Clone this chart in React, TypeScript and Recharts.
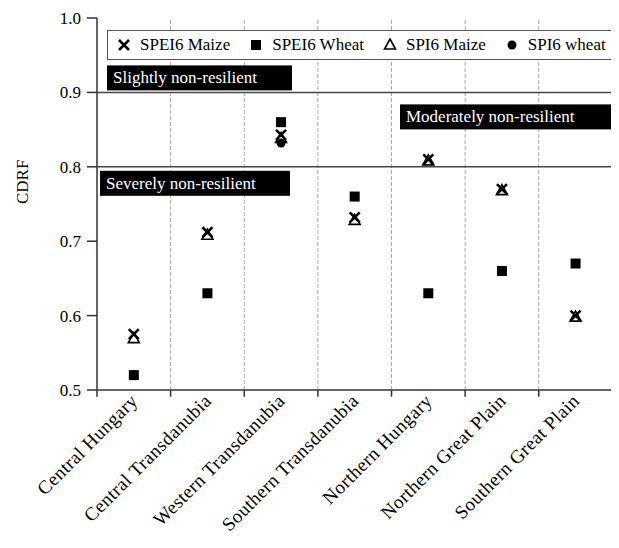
import { ScatterChart, Scatter, XAxis, YAxis, ReferenceLine, Legend } from 'recharts';

const regions = [
  'Central Hungary',
  'Central Transdanubia',
  'Western Transdanubia',
  'Southern Transdanubia',
  'Northern Hungary',
  'Northern Great Plain',
  'Southern Great Plain',
];

const spei6Maize = [0.575, 0.712, 0.843, 0.732, 0.81, 0.77, 0.60];
const spei6Wheat = [0.52, 0.63, 0.86, 0.76, 0.63, 0.66, 0.67];
const spi6Maize = [0.569, 0.708, 0.838, 0.728, 0.808, 0.768, 0.598];
const spi6Wheat = [0.52, 0.63, 0.832, 0.76, 0.63, 0.66, 0.67];

const yTicks = [0.5, 0.6, 0.7, 0.8, 0.9, 1.0];
const boundaryTicks = [0, 1, 2, 3, 4, 5, 6];
const centerTicks = regions.map((_, i) => i + 0.5);

const FONT = 'Liberation Serif, serif';
const X_MAX = 7.09;
const Y_MIN = 0.5;
const TICK_END = 0.491; // little boundary ticks hanging under the x axis

const toPoints = (vals: number[]) => vals.map((v, i) => ({ x: i + 0.5, y: v }));

const XMark = ({ cx, cy }: any) => (
  <path d={`M${cx - 5},${cy - 5}L${cx + 5},${cy + 5}M${cx + 5},${cy - 5}L${cx - 5},${cy + 5}`} stroke="#000" strokeWidth={2.6} />
);
const SquareMark = ({ cx, cy }: any) => <rect x={cx - 5} y={cy - 5} width={10} height={10} fill="#000" />;
const TriMark = ({ cx, cy }: any) => (
  <polygon points={`${cx},${cy - 6} ${cx + 5.5},${cy + 4} ${cx - 5.5},${cy + 4}`} fill="none" stroke="#000" strokeWidth={1.6} />
);
const DotMark = ({ cx, cy }: any) => <circle cx={cx} cy={cy} r={4.5} fill="#000" />;

const series = [
  { name: 'SPEI6 Maize', vals: spei6Maize, Shape: XMark },
  { name: 'SPEI6 Wheat', vals: spei6Wheat, Shape: SquareMark },
  { name: 'SPI6 Maize', vals: spi6Maize, Shape: TriMark },
  { name: 'SPI6 wheat', vals: spi6Wheat, Shape: DotMark },
];

// black tags sitting on the threshold lines
const tag = (text: string, dx: number, dy: number, w: number) => (props: any) => {
  const { x, y } = props.viewBox;
  return (
    <g>
      <rect x={x + dx} y={y + dy} width={w} height={25} fill="#000" />
      <text x={x + dx + 6} y={y + dy + 18} fill="#fff" fontSize={17} fontFamily={FONT}>{text}</text>
    </g>
  );
};

const RegionTick = ({ x, y, payload }: any) => {
  const label = regions[Math.round(payload.value - 0.5)];
  return (
    <text x={x + 5} y={y + 4} transform={`rotate(-45, ${x + 5}, ${y + 4})`} textAnchor="end" fontSize={19} letterSpacing={0.4} fontFamily={FONT} fill="#000">
      {label}
    </text>
  );
};

const LegendBox = () => (
  <div style={{ boxSizing: 'border-box', width: 512, height: 30, border: '1px solid #555', background: '#fff', display: 'flex', alignItems: 'center', paddingLeft: 9, fontFamily: FONT, fontSize: 17, color: '#000', whiteSpace: 'nowrap' }}>
    {series.map(({ name, Shape }) => (
      <div key={name} style={{ display: 'flex', alignItems: 'center', marginRight: 19, flexShrink: 0 }}>
        <svg width={14} height={14} style={{ display: 'block' }}><Shape cx={7} cy={7} /></svg>
        <span style={{ marginLeft: 9 }}>{name}</span>
      </div>
    ))}
  </div>
);

export default function App() {
  return (
    <ScatterChart width={611} height={540} margin={{ top: 10, right: 0, bottom: 8, left: 9 }}>
      <XAxis
        xAxisId="lab" type="number" dataKey="x" domain={[0, X_MAX]} ticks={centerTicks}
        height={120} axisLine={{ stroke: '#333', strokeWidth: 1.5 }} tickLine={false} tick={<RegionTick />} interval={0}
      />
      <YAxis
        type="number" dataKey="y" domain={[Y_MIN, 1.0]} ticks={yTicks} width={80}
        tickFormatter={(v: number) => v.toFixed(1)} tickSize={10} tickMargin={6}
        tick={{ fill: '#000', fontSize: 17, fontFamily: FONT }}
        axisLine={{ stroke: '#333', strokeWidth: 1.5 }} tickLine={{ stroke: '#333', strokeWidth: 1.5 }}
        label={{ value: 'CDRF', angle: -90, position: 'insideLeft', offset: 5, fill: '#000', fontSize: 17, fontFamily: FONT }}
      />
      {boundaryTicks.slice(1).map((b) => (
        <ReferenceLine key={`g${b}`} xAxisId="lab" x={b} stroke="#aaa" strokeDasharray="4 2" />
      ))}
      {boundaryTicks.map((b) => (
        <ReferenceLine key={`t${b}`} xAxisId="lab" ifOverflow="visible" stroke="#333" strokeWidth={1.5}
          segment={[{ x: b, y: Y_MIN }, { x: b, y: TICK_END }]} />
      ))}
      <ReferenceLine xAxisId="lab" y={0.9} stroke="#444" strokeWidth={1.5}
        label={(p: any) => (
          <g>
            {tag('Slightly non-resilient', 10, -27, 185)(p)}
            {tag('Moderately non-resilient', 303, 12, 212)(p)}
          </g>
        )}
      />
      <ReferenceLine xAxisId="lab" y={0.8} stroke="#444" strokeWidth={1.5} label={tag('Severely non-resilient', 3, 4, 190)} />
      <Legend content={<LegendBox />} wrapperStyle={{ top: 22, left: 99, width: 512 }} />
      {series.map(({ name, vals, Shape }) => (
        <Scatter key={name} name={name} xAxisId="lab" data={toPoints(vals)} shape={<Shape />} isAnimationActive={false} />
      ))}
    </ScatterChart>
  );
}
